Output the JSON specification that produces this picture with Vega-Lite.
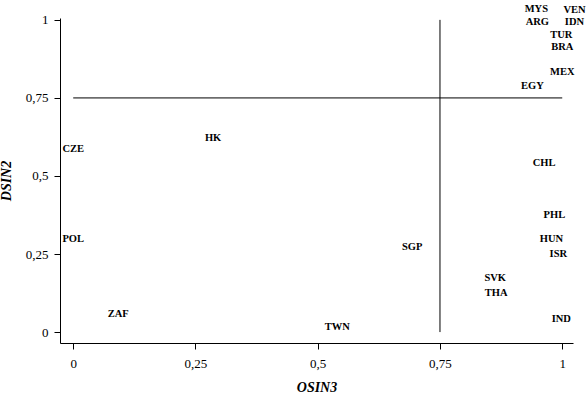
{
  "$schema": "https://vega.github.io/schema/vega-lite/v6.json",
  "width": 513,
  "height": 325,
  "autosize": "none",
  "padding": {"left": 60, "top": 18, "right": 15, "bottom": 53},
  "background": "white",
  "config": {
    "view": {"stroke": null},
    "font": "Liberation Serif",
    "axis": {
      "domainColor": "black", "domainWidth": 1, "tickColor": "black", "tickSize": 6, "tickWidth": 1,
      "labelFont": "Liberation Serif", "labelFontSize": 13, "labelColor": "black",
      "titleFont": "Liberation Serif", "titleFontSize": 14, "titleFontStyle": "italic", "titleFontWeight": "bold", "titleColor": "black",
      "grid": false
    }
  },
  "layer": [
    {
      "data": {"values": [{"x": 0.75, "y": 0, "y2": 1}]},
      "mark": {"type": "rule", "color": "black", "strokeWidth": 1},
      "encoding": {
        "x": {"field": "x", "type": "quantitative"},
        "y": {"field": "y", "type": "quantitative"},
        "y2": {"field": "y2"}
      }
    },
    {
      "data": {"values": [{"y": 0.75, "x": 0, "x2": 1}]},
      "mark": {"type": "rule", "color": "black", "strokeWidth": 1},
      "encoding": {
        "y": {"field": "y", "type": "quantitative"},
        "x": {"field": "x", "type": "quantitative"},
        "x2": {"field": "x2"}
      }
    },
    {
      "data": {"values": [
        {"country": "MYS", "OSIN3": 0.947, "DSIN2": 1.035},
        {"country": "VEN", "OSIN3": 1.025, "DSIN2": 1.032},
        {"country": "ARG", "OSIN3": 0.949, "DSIN2": 0.994},
        {"country": "IDN", "OSIN3": 1.025, "DSIN2": 0.994},
        {"country": "TUR", "OSIN3": 0.998, "DSIN2": 0.952},
        {"country": "BRA", "OSIN3": 1.0, "DSIN2": 0.913},
        {"country": "MEX", "OSIN3": 1.0, "DSIN2": 0.833},
        {"country": "EGY", "OSIN3": 0.939, "DSIN2": 0.788},
        {"country": "CZE", "OSIN3": 0.0, "DSIN2": 0.587},
        {"country": "HK", "OSIN3": 0.286, "DSIN2": 0.622},
        {"country": "CHL", "OSIN3": 0.963, "DSIN2": 0.542},
        {"country": "PHL", "OSIN3": 0.984, "DSIN2": 0.375},
        {"country": "HUN", "OSIN3": 0.978, "DSIN2": 0.298},
        {"country": "ISR", "OSIN3": 0.992, "DSIN2": 0.25},
        {"country": "POL", "OSIN3": 0.0, "DSIN2": 0.298},
        {"country": "SGP", "OSIN3": 0.693, "DSIN2": 0.272},
        {"country": "SVK", "OSIN3": 0.863, "DSIN2": 0.173},
        {"country": "THA", "OSIN3": 0.865, "DSIN2": 0.125},
        {"country": "ZAF", "OSIN3": 0.092, "DSIN2": 0.058},
        {"country": "TWN", "OSIN3": 0.54, "DSIN2": 0.016},
        {"country": "IND", "OSIN3": 0.998, "DSIN2": 0.042}
      ]},
      "mark": {"type": "text", "font": "Liberation Serif", "fontSize": 10.5, "fontWeight": "bold", "color": "black", "align": "center", "baseline": "middle"},
      "encoding": {
        "text": {"field": "country"},
        "x": {
          "field": "OSIN3", "type": "quantitative", "title": "OSIN3",
          "scale": {"domain": [-0.027, 1.022], "nice": false, "zero": false},
          "axis": {"values": [0, 0.25, 0.5, 0.75, 1], "labelExpr": "replace(toString(datum.value), '.', ',')", "labelPadding": 8, "titlePadding": 10}
        },
        "y": {
          "field": "DSIN2", "type": "quantitative", "title": "DSIN2",
          "scale": {"domain": [-0.035, 1.006], "nice": false, "zero": false},
          "axis": {"values": [0, 0.25, 0.5, 0.75, 1], "labelExpr": "replace(toString(datum.value), '.', ',')", "labelPadding": 6, "titlePadding": 12}
        }
      }
    }
  ]
}
